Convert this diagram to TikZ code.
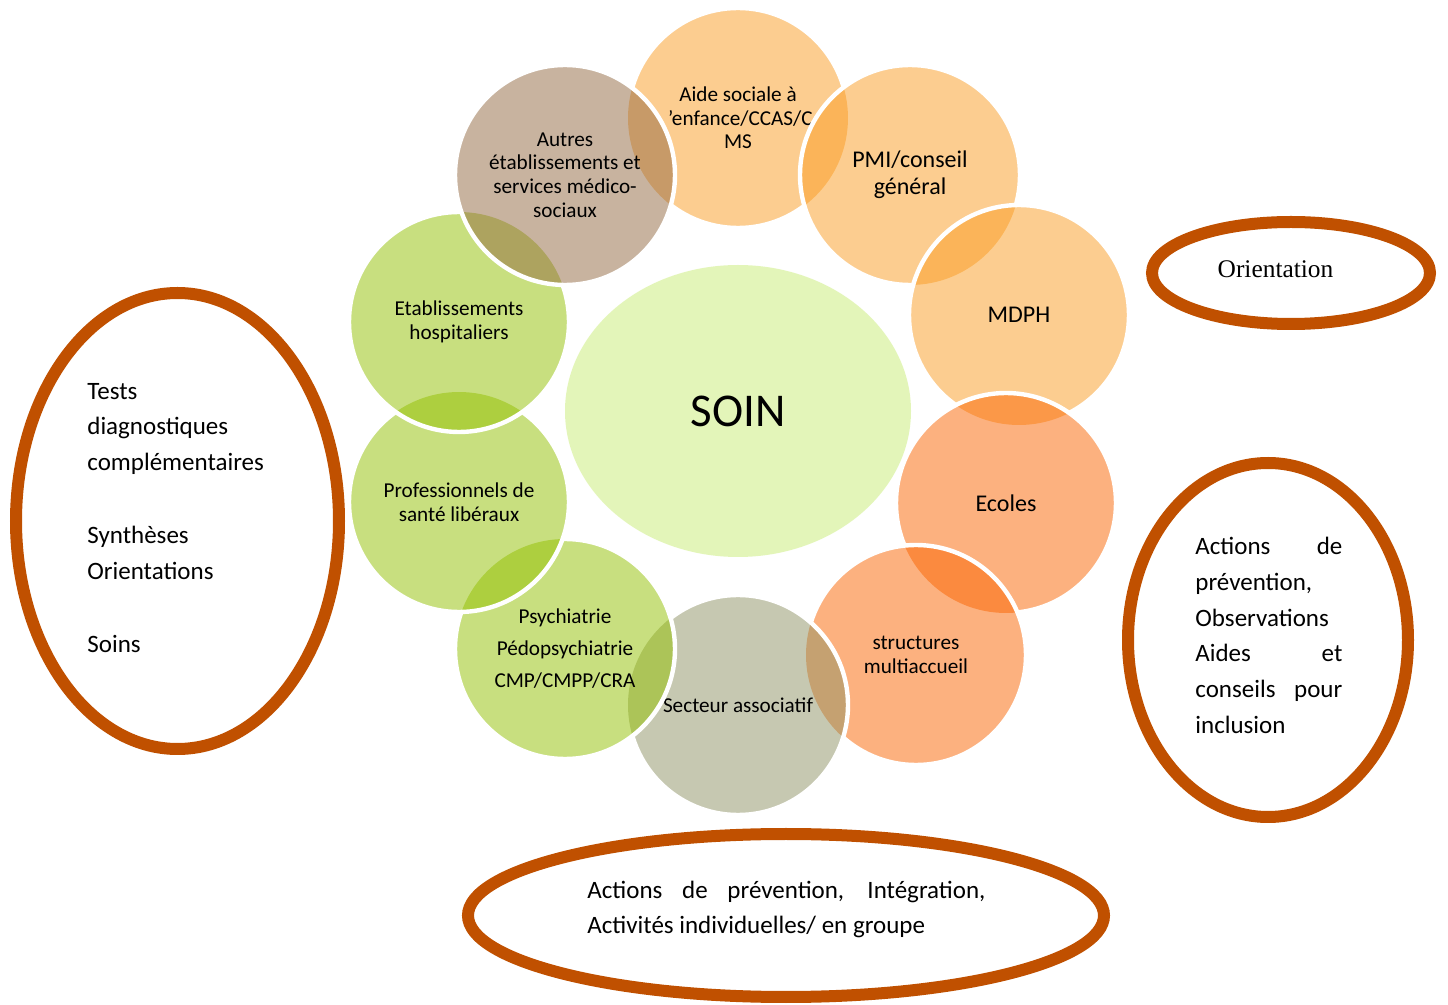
\documentclass[tikz,border=0pt]{standalone}
\usepackage{fontspec}
\setmainfont{Carlito}
\newfontfamily\timesfont{Liberation Serif}
\usetikzlibrary{shapes.geometric}
\definecolor{orA}{RGB}{251,157,35}
\definecolor{salB}{RGB}{251,101,1}
\definecolor{greenB}{RGB}{147,193,1}
\definecolor{taupeB}{RGB}{147,105,65}
\definecolor{grayB}{RGB}{143,147,101}
\definecolor{soinB}{RGB}{201,237,117}
\definecolor{ringc}{RGB}{192,80,0}
\newcommand\bubstroke[3]{\begin{scope}[even odd rule]
 \clip (-20,-20) rectangle (1470,1030) (#2.center) circle[radius=55pt];
 \begin{scope}[even odd rule]
 \clip (-20,-20) rectangle (1470,1030) (#3.center) circle[radius=55pt];
 \draw[bubline] (#1.center) circle[radius=55pt];
 \end{scope}
\end{scope}}
\begin{document}
\begin{tikzpicture}[x=0.5pt,y=-0.5pt,
 bub/.style={circle, minimum size=110pt, inner sep=0pt, draw=none, fill opacity=0.5, text opacity=1, align=center, font=\fontsize{10.6}{11.85}\selectfont},
 bubtxt/.style={inner sep=0pt, align=center, font=\fontsize{10.6}{11.85}\selectfont},
 bigtxt/.style={font=\fontsize{12}{13.5}\selectfont},
 bubline/.style={draw=white, line width=2.2pt},
 ring/.style={ellipse, draw=ringc, line width=6pt, inner sep=0pt},
 sidetxt/.style={inner sep=0pt, align=left, font=\fontsize{12.5}{17.85}\selectfont}]
\useasboundingbox (0,0) rectangle (1448,1005);
\fill[white] (0,0) rectangle (1448,1005);

% centre
\node[ellipse, minimum width=173pt, minimum height=146pt, inner sep=0pt, fill=soinB, fill opacity=0.5, text opacity=1, font=\fontsize{23.5}{28}\selectfont] (soin) at (738,411) {SOIN};

% bubbles, in stacking order
\node[bub, fill=orA] (aide) at (738,118) {};
\begin{scope}
 \clip (667,60) rectangle (811,170);
 \node[bubtxt] (aidetxt) at (aide.center) {Aide sociale à\\l’enfance/CCAS/C\\MS};
\end{scope}
\node[bub, bigtxt, fill=orA] (pmi) at (910,175) {PMI/conseil\\général};
\node[bub, bigtxt, fill=orA] (mdph) at (1019,315) {MDPH};
\node[bub, bigtxt, fill=salB] (ecoles) at (1006,503) {Ecoles};
\node[bub, fill=salB] (struct) at (916,655) {structures\\multiaccueil};
\node[bub, fill=grayB] (secteur) at (738,705) {Secteur associatif};
\node[bub, fill=greenB] (psy) at (565,649) {Psychiatrie\\[4.15pt]Pédopsychiatrie\\[4.15pt]CMP/CMPP/CRA};
\node[bub, fill=greenB] (prof) at (459,502) {Professionnels de\\santé libéraux};
\node[bub, fill=greenB] (etab) at (459,322) {Etablissements\\hospitaliers};
\node[bub, fill=taupeB] (autres) at (565,175) {Autres\\établissements et\\services médico-\\sociaux};

% white outlines, hidden under the bubble lying above
\bubstroke{aide}{pmi}{autres}
\bubstroke{pmi}{mdph}{mdph}
\bubstroke{mdph}{ecoles}{ecoles}
\bubstroke{ecoles}{struct}{struct}
\bubstroke{struct}{secteur}{secteur}
\bubstroke{secteur}{psy}{psy}
\bubstroke{psy}{prof}{prof}
\bubstroke{prof}{etab}{etab}
\bubstroke{etab}{autres}{autres}
\draw[bubline] (autres.center) circle[radius=55pt];

% outer rings
\node[ring, minimum width=161.5pt, minimum height=228pt] (leftring) at (177.5,521) {};
\node[ring, minimum width=139pt, minimum height=51pt] (orientring) at (1291,273) {};
\node[ring, minimum width=140pt, minimum height=177pt] (rightring) at (1268,640) {};
\node[ring, minimum width=318pt, minimum height=81.5pt] (botring) at (786,915.5) {};

% ring texts
\node[sidetxt, anchor=west] (lefttxt) at (87,518) {Tests\\diagnostiques\\complémentaires\\[18.8pt]Synthèses\\Orientations\\[18.8pt]Soins};
\node[inner sep=0pt, font=\timesfont\fontsize{12.7}{15}\selectfont] (orienttxt) at (1275.5,269) {Orientation};
\node[sidetxt, anchor=west] (righttxt) at (1195,635.5) {\makebox[73.5pt][s]{Actions de}\\prévention,\\Observations\\\makebox[73.5pt][s]{Aides et}\\\makebox[73.5pt][s]{conseils pour}\\inclusion};
\node[sidetxt, anchor=west] (bottxt) at (587,909.5) {\makebox[199pt][s]{Actions de prévention, Intégration,}\\Activités individuelles/ en groupe};
\end{tikzpicture}
\end{document}
